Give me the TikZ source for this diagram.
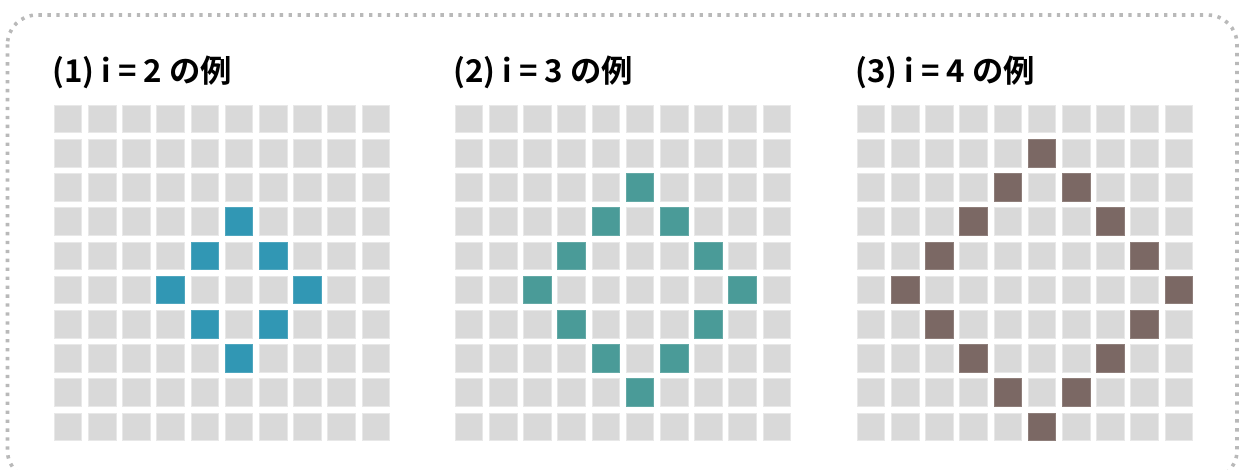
\documentclass[tikz,border=0pt]{standalone}
\usepackage{fontspec}
\setmainfont{Noto Sans CJK JP}[BoldFont={Noto Sans CJK JP Bold}]
\definecolor{cellgray}{RGB}{217,217,217}
\definecolor{cellline}{RGB}{232,232,232}
\definecolor{bluec}{RGB}{49,151,180}
\definecolor{tealc}{RGB}{74,155,152}
\definecolor{brownc}{RGB}{123,104,100}
\definecolor{framec}{RGB}{185,185,185}
\tikzset{
  cell/.style={draw=cellline, line width=0.6pt, fill=cellgray, minimum size=20.6pt, inner sep=0pt, outer sep=0pt},
  title/.style={anchor=base west, inner sep=0pt, font=\fontsize{23.5pt}{28pt}\selectfont\bfseries},
  frame/.style={draw=framec, line width=2.7pt, dash pattern=on 2.5pt off 4.2pt, rounded corners=22pt}
}
\begin{document}
\begin{tikzpicture}[x=0.75pt,y=-0.75pt]
\useasboundingbox (0,0) rectangle (1240,470);
\draw[frame] (7.5,15) rectangle (1237,480);
\node[title] (t1) at (52,83) {(1) i = 2 の例};
\node[title] (t2) at (453,83) {(2) i = 3 の例};
\node[title] (t3) at (855,83) {(3) i = 4 の例};
\foreach \g/\ox/\rad/\col in {1/54/2/bluec, 2/455/3/tealc, 3/857/4/brownc}{
  \foreach \r in {0,...,9}{
    \foreach \c in {0,...,9}{
      \pgfmathtruncatemacro{\d}{abs(\r-5)+abs(\c-5)}
      \ifnum\d=\rad
        \node[cell, fill=\col, draw=\col!85!white] (c\g-\r-\c) at ({\ox+14+\c*34.2},{119+\r*34.2}) {};
      \else
        \node[cell] (c\g-\r-\c) at ({\ox+14+\c*34.2},{119+\r*34.2}) {};
      \fi
    }
  }
}
\end{tikzpicture}
\end{document}
